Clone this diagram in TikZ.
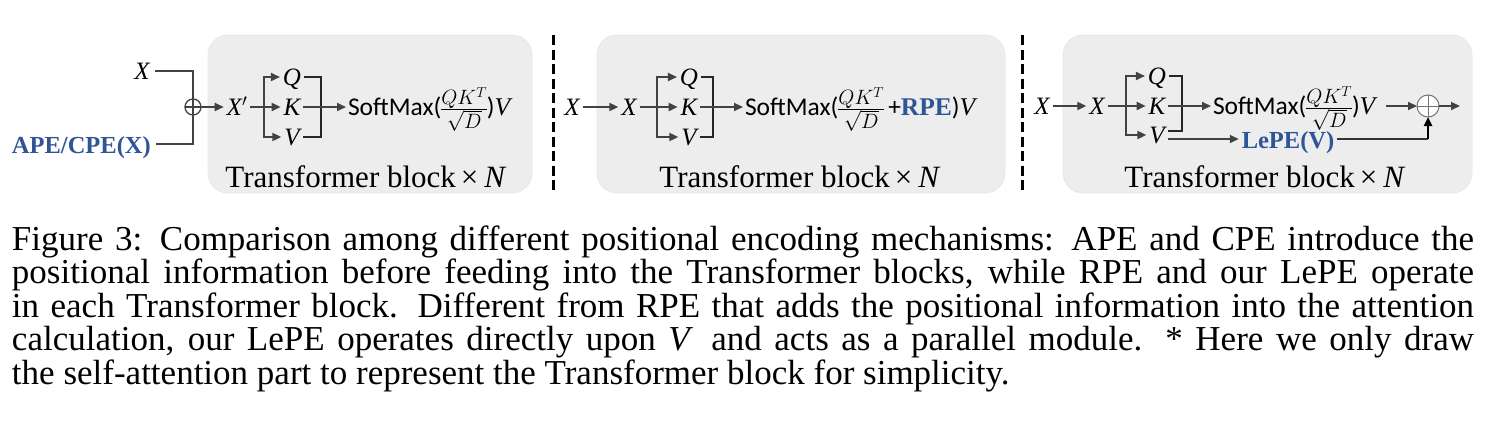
\documentclass[tikz,border=0pt]{standalone}
\usepackage{fontspec}
\setmainfont{Liberation Serif}
\newfontfamily\carl{Carlito}
\usetikzlibrary{arrows.meta}
\definecolor{blu}{HTML}{2F5597}
\definecolor{boxgray}{HTML}{EDEDED}
\definecolor{lin}{HTML}{424242}
\newcommand\mi[1]{{\rmfamily\itshape #1}}
\newcommand\smfrac{{\fontsize{27.5}{27.5}\selectfont\nulldelimiterspace=0pt$\frac{QK^{T}}{\sqrt{D}}$}}
\begin{document}
\begin{tikzpicture}[x=1pt,y=-1pt,
  every node/.style={inner sep=3pt, outer sep=0pt},
  arr/.style={draw=lin, line width=1.8pt, -{Triangle[length=9pt,width=8pt]}},
  ln/.style={draw=lin, line width=1.8pt},
  brk/.style={draw=black!85, line width=1.1pt},
  blk/.style={draw=black, line width=2.4pt, -{Triangle[length=9pt,width=8pt]}},
  letter/.style={font=\fontsize{25}{25}\selectfont\itshape, text height=16.5pt, text depth=0pt},
  smtxt/.style={font=\carl\fontsize{25.5}{25.5}\selectfont, anchor=base west, inner sep=2pt},
  tbtxt/.style={font=\fontsize{31}{31}\selectfont, anchor=base},
  posenc/.style={font=\fontsize{24.5}{24.5}\selectfont\bfseries, text=blu, text height=18pt, text depth=0pt, inner sep=0pt},
  panel/.style={fill=boxgray, draw=black!9, line width=0.8pt, rounded corners=20pt},
  sepl/.style={draw=black, line width=3pt, dash pattern=on 10pt off 4.5pt},
  captxt/.style={font=\fontsize{35}{34}\selectfont, anchor=base west, inner sep=0pt},
  pluss/.style={circle, draw=lin, line width=1.3pt, minimum size=16pt, inner sep=0pt},
]
\useasboundingbox (0,0) rectangle (1504,434);
\fill[white] (0,0) rectangle (1504,434);
% panels
\draw[panel] (208,35) rectangle (532,193);
\draw[panel] (597,35) rectangle (1005,193);
\draw[panel] (1063,35) rectangle (1472,193);
\draw[sepl] (553,35) -- (553,193);
\draw[sepl] (1022,35) -- (1022,193);

% ---------- panel 1
\node[letter] (x1) at (142,71) {X};
\node[posenc, anchor=base west] (ape) at (12,153) {APE/CPE(X)};
\node[pluss] (p1) at (193,107) {};
\draw[ln, shorten <=2pt] (x1) -| (p1.north);
\draw[ln, shorten <=5pt] (ape) -| (p1.south);
\draw[ln] (p1.north) -- (p1.south);
\draw[ln] (p1.west) -- (p1.east);
\node[letter] (xp1) at (237,107) {X$'$};
\draw[arr] (p1.east) -- (xp1);
\node[letter] (q1) at (292,77) {Q};
\node[letter] (k1) at (292,107) {K};
\node[letter] (v1) at (292,137) {V};
\coordinate (b1) at (264,107);
\coordinate (r1) at (321,107);
\draw[arr] (xp1) -- (k1);
\draw[arr] (b1) |- (q1);
\draw[arr] (b1) |- (v1);
\draw[brk] (q1) -| (r1) |- (v1);
\node[smtxt] (sm1) at (346,115.4) {SoftMax(\smfrac)\mi{V}};
\draw[arr] (k1) -- (sm1.west |- k1);
\node[tbtxt] (t1) at (366,187) {Transformer block\hspace{5pt}×\hspace{6pt}\textit{N}};

% ---------- panel 2
\node[letter] (x2) at (572,107) {X};
\node[letter] (x2b) at (629,107) {X};
\draw[arr] (x2) -- (x2b);
\node[letter] (q2) at (689,77) {Q};
\node[letter] (k2) at (689,107) {K};
\node[letter] (v2) at (689,137) {V};
\coordinate (b2) at (657,107);
\coordinate (r2) at (713,107);
\draw[arr] (x2b) -- (k2);
\draw[arr] (b2) |- (q2);
\draw[arr] (b2) |- (v2);
\draw[brk] (q2) -| (r2) |- (v2);
\node[smtxt] (sm2) at (743,115.4) {SoftMax(\smfrac\,+{\rmfamily\bfseries\color{blu}RPE})\mi{V}};
\draw[arr] (k2) -- (sm2.west |- k2);
\node[tbtxt] (t2) at (800,187) {Transformer block\hspace{5pt}×\hspace{6pt}\textit{N}};

% ---------- panel 3
\node[letter] (x3) at (1042,106) {X};
\node[letter] (x3b) at (1097,106) {X};
\draw[arr] (x3) -- (x3b);
\node[letter] (q3) at (1157,76) {Q};
\node[letter] (k3) at (1157,106) {K};
\node[letter] (v3) at (1157,135) {V};
\coordinate (b3) at (1126,106);
\coordinate (r3) at (1182,106);
\draw[arr] (x3b) -- (k3);
\draw[arr] (b3) |- (q3);
\draw[arr] (b3) |- (v3);
\draw[brk] (q3) -| (r3) |- ([yshift=4pt]v3.east);
\node[smtxt] (sm3) at (1211,114.4) {SoftMax(\smfrac)\mi{V}};
\draw[arr] (k3) -- (sm3.west |- k3);
\node[circle, draw=black!55, fill=white, line width=1pt, minimum size=22pt, inner sep=0pt] (p3) at (1428,106) {};
\draw[black!55, line width=1pt] (p3.north) -- (p3.south) (p3.west) -- (p3.east);
\draw[arr, shorten <=9pt] (sm3.east |- p3) -- (p3.west);
\coordinate (o3) at (1460,106);
\draw[arr] (p3.east) -- (o3);
\node[posenc, anchor=base, inner sep=3pt] (lepe) at (1288,148) {LePE(V)};
\draw[arr] ([yshift=-4pt]v3.east) -- (lepe.west);
\draw[draw=black!80, line width=1.5pt] (lepe) -- (lepe.east -| p3);
\draw[blk] (lepe.east -| p3) -- (p3.south);
\node[tbtxt] (t3) at (1265,187) {Transformer block\hspace{5pt}×\hspace{6pt}\textit{N}};

% ---------- caption
\node[captxt] (c1) at (12,250) {\makebox[1462pt][s]{Figure 3: Comparison among different positional encoding mechanisms: APE and CPE introduce the}};
\node[captxt] (c2) at (12,283.5) {\makebox[1462pt][s]{positional information before feeding into the Transformer blocks, while RPE and our LePE operate}};
\node[captxt] (c3) at (12,317) {\makebox[1462pt][s]{in each Transformer block. Different from RPE that adds the positional information into the attention}};
\node[captxt] (c4) at (12,350.5) {\makebox[1462pt][s]{calculation, our LePE operates directly upon \textit{V}\, and acts as a parallel module. * Here we only draw}};
\node[captxt] (c5) at (12,384) {the self-attention part to represent the Transformer block for simplicity.};
\end{tikzpicture}
\end{document}
